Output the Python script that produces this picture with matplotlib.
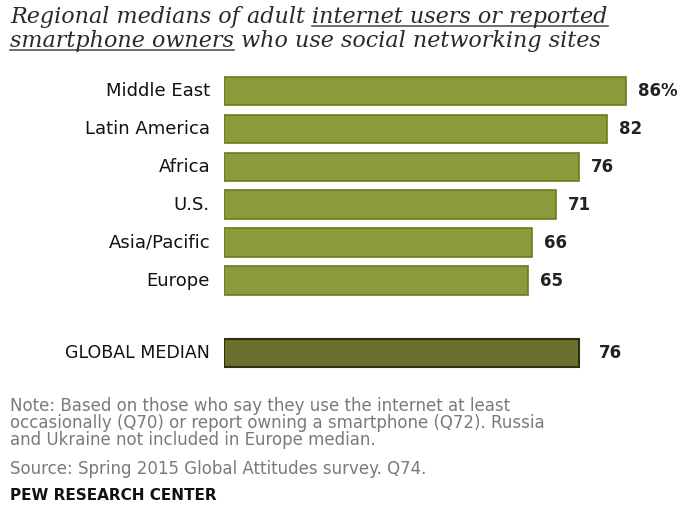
import matplotlib
matplotlib.use("Agg")
import matplotlib.pyplot as plt
from matplotlib.lines import Line2D

regions = ["Middle East", "Latin America", "Africa", "U.S.", "Asia/Pacific", "Europe"]
values = [86, 82, 76, 71, 66, 65]
value_labels = ["86%", "82", "76", "71", "66", "65"]
global_label = "GLOBAL MEDIAN"
global_value = 76

title_parts = [
    [("Regional medians of adult ", False), ("internet users or reported", True)],
    [("smartphone owners", True), (" who use social networking sites", False)],
]
note_lines = [
    "Note: Based on those who say they use the internet at least",
    "occasionally (Q70) or report owning a smartphone (Q72). Russia",
    "and Ukraine not included in Europe median.",
]
source = "Source: Spring 2015 Global Attitudes survey. Q74."
credit = "PEW RESEARCH CENTER"

W, H = 691, 512
fig = plt.figure(figsize=(W / 100, H / 100), dpi=100)
fig.patch.set_facecolor("white")

# axes for bars, placed in pixel terms
ax = fig.add_axes([224 / W, 1 - 372 / H, 467 / W, 300 / H])
ax.set_xlim(0, 100)
ax.set_ylim(7.4, -0.5)
ax.axis("off")

bar_color = "#8c9a3b"
bar_edge = "#6c7a1c"
glob_color = "#6b6e2c"
glob_edge = "#2e3010"
bh = 0.76

ypos = list(range(len(regions)))
ax.barh(ypos, values, height=bh, color=bar_color, edgecolor=bar_edge, linewidth=1.2)
for y, v, lab, name in zip(ypos, values, value_labels, regions):
    ax.text(v + 2.6, y, lab, va="center", ha="left", fontsize=12,
            fontweight="bold", color="#222222")
    ax.text(-3.0, y, name, va="center", ha="right", fontsize=13,
            color="#111111")

gy = 6.9
ax.barh([gy], [global_value], height=bh, color=glob_color, edgecolor=glob_edge, linewidth=1.5)
ax.text(global_value + 4.3, gy, str(global_value), va="center", ha="left",
        fontsize=12, fontweight="bold", color="#222222")
ax.text(-3.0, gy, global_label, va="center", ha="right", fontsize=12.5,
        color="#111111")

# title with underlined segments
renderer = fig.canvas.get_renderer()
for i, parts in enumerate(title_parts):
    x = 10
    ypix = H - (23 + i * 24)
    for txt, under in parts:
        t = fig.text(x / W, ypix / H, txt, fontsize=16, family="DejaVu Serif",
                     style="italic", color="#2a2a2a", va="baseline", ha="left")
        bb = t.get_window_extent(renderer)
        if under:
            uy = (ypix - 3) / H
            fig.add_artist(Line2D([bb.x0 / W, bb.x1 / W], [uy, uy],
                                  color="#555555", linewidth=1.2))
        x = bb.x1

for i, line in enumerate(note_lines):
    fig.text(10 / W, 1 - (406 + i * 17) / H, line, fontsize=12,
             color="#7a7a7a", va="center", ha="left")
fig.text(10 / W, 1 - 469 / H, source, fontsize=12, color="#7a7a7a",
         va="center", ha="left")
fig.text(10 / W, 1 - 496 / H, credit, fontsize=11, fontweight="bold",
         color="#111111", va="center", ha="left")

fig.savefig("out.png", dpi=100)
